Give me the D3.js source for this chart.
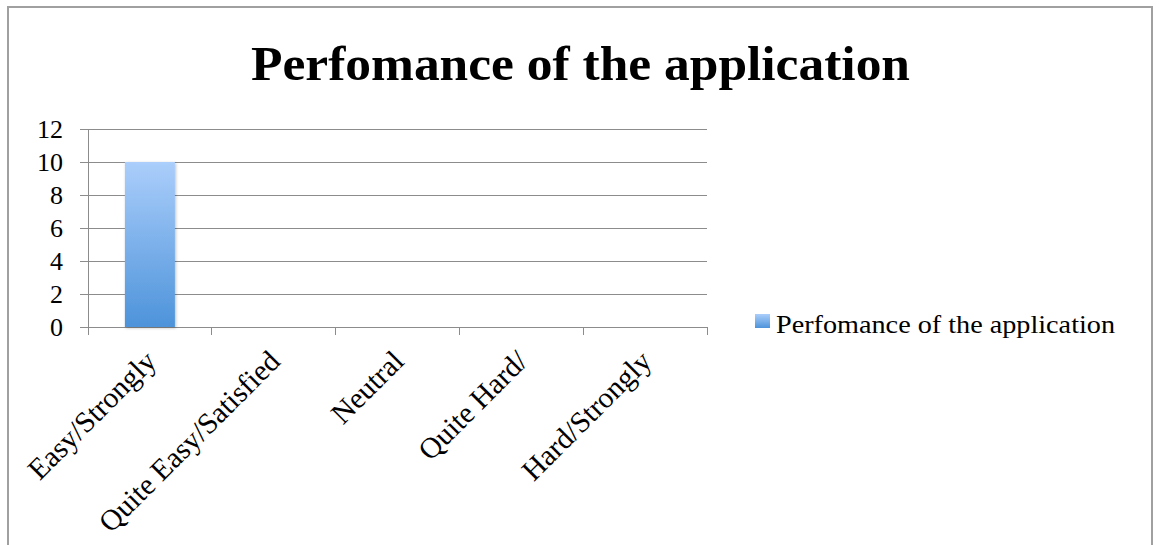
<!DOCTYPE html>
<html><head><meta charset="utf-8">
<script src="https://cdn.jsdelivr.net/npm/d3@7"></script>
<style>html,body{margin:0;padding:0;background:#fff;}svg{display:block;}</style>
</head><body>
<svg id="chart" width="1159" height="545"></svg>
<script>
const title = "Perfomance of the application";
const seriesName = "Perfomance of the application";
const categories = ["Easy/Strongly", "Quite Easy/Satisfied", "Neutral", "Quite Hard/", "Hard/Strongly"];
const values = [10, 0, 0, 0, 0];
const yTicks = [0, 2, 4, 6, 8, 10, 12];

(function () {
const svg = d3.select("#chart");
const font = "'Liberation Serif', 'Times New Roman', serif";

const defs = svg.append("defs");
const grad = defs.append("linearGradient").attr("id", "barGrad").attr("x1", 0).attr("y1", 0).attr("x2", 0).attr("y2", 1);
grad.append("stop").attr("offset", "0%").attr("stop-color", "#abcefb");
grad.append("stop").attr("offset", "100%").attr("stop-color", "#4d93da");
const f = defs.append("filter").attr("id", "shadow").attr("x", "-20%").attr("y", "-10%").attr("width", "140%").attr("height", "120%");
f.append("feDropShadow").attr("dx", 1).attr("dy", 1).attr("stdDeviation", 1.5).attr("flood-color", "#000").attr("flood-opacity", 0.25);

// outer frame
svg.append("rect").attr("x", 8).attr("y", 7).attr("width", 1144).attr("height", 560)
  .attr("fill", "none").attr("stroke", "#a0a0a0").attr("stroke-width", 2);

svg.append("text").attr("x", 580.5).attr("y", 80).attr("text-anchor", "middle")
  .attr("font-family", font).attr("font-weight", "bold").attr("font-size", 48)
  .attr("textLength", 659).attr("lengthAdjust", "spacingAndGlyphs")
  .text(title);

const pl = 88, pr = 707, pt = 129, pb = 327;
const x = d3.scaleBand().domain(categories).range([pl, pr]).paddingInner(0).paddingOuter(0);
const y = d3.scaleLinear().domain([0, 12]).range([pb, pt]);

// gridlines
svg.append("g").selectAll("line").data(yTicks).join("line")
  .attr("x1", pl - 8).attr("x2", pr).attr("y1", d => y(d)).attr("y2", d => y(d))
  .attr("stroke", "#8c8c8c").attr("stroke-width", 1).attr("shape-rendering", "crispEdges");

// y axis line
svg.append("line").attr("x1", pl).attr("x2", pl).attr("y1", pt).attr("y2", pb + 8)
  .attr("stroke", "#8c8c8c").attr("shape-rendering", "crispEdges");

// x ticks
const xb = categories.map(c => x(c)).concat([pr]);
svg.append("g").selectAll("line").data(xb).join("line")
  .attr("x1", d => d).attr("x2", d => d).attr("y1", pb).attr("y2", pb + 8)
  .attr("stroke", "#8c8c8c").attr("shape-rendering", "crispEdges");

// y labels
svg.append("g").selectAll("text").data(yTicks).join("text")
  .attr("x", 63).attr("y", d => y(d) + 9).attr("text-anchor", "end")
  .attr("font-family", font).attr("font-size", 26).attr("fill", "#000")
  .text(d => d);

// bars
svg.append("g").selectAll("rect").data(values).join("rect")
  .attr("x", (d, i) => x(categories[i]) + x.bandwidth() / 2 - 25)
  .attr("width", 50)
  .attr("y", d => y(d)).attr("height", d => y(0) - y(d))
  .attr("fill", "url(#barGrad)").attr("filter", "url(#shadow)")
  .style("display", d => d > 0 ? null : "none");

// x labels
svg.append("g").selectAll("text").data(categories).join("text")
  .attr("transform", c => `translate(${x(c) + x.bandwidth() / 2 + 8},${pb + 36}) rotate(-45)`)
  .attr("text-anchor", "end")
  .attr("font-family", font).attr("font-size", 29.5).attr("fill", "#000")
  .text(c => c);

// legend
svg.append("rect").attr("x", 755).attr("y", 314).attr("width", 15).attr("height", 14)
  .attr("fill", "url(#barGrad)");
svg.append("text").attr("x", 776).attr("y", 333)
  .attr("font-family", font).attr("font-size", 25)
  .attr("textLength", 339).attr("lengthAdjust", "spacingAndGlyphs")
  .text(seriesName);
})();
</script>
</body></html>
